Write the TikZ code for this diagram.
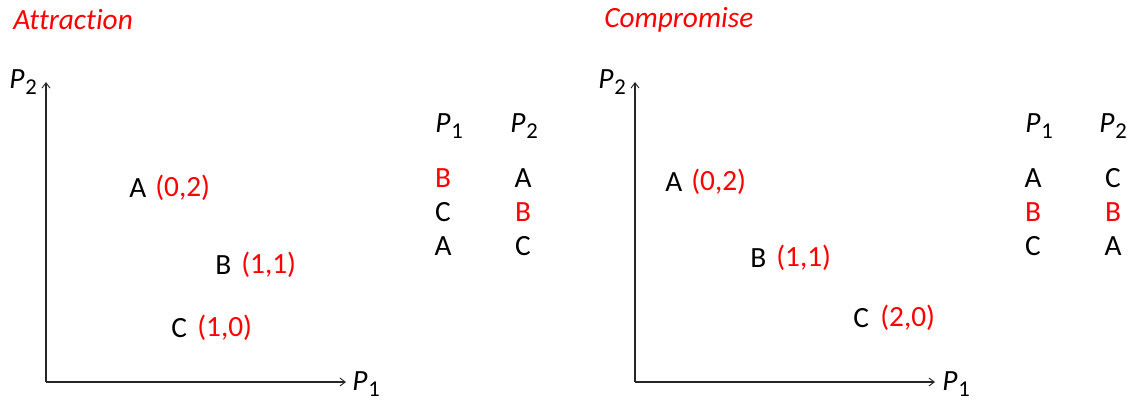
\documentclass[tikz,border=0pt]{standalone}
\usepackage{fontspec}
\setmainfont[Ligatures=NoCommon]{Carlito}
\usetikzlibrary{arrows.meta}
\newcommand{\Plab}[1]{\textit{P}\kern0.8pt\raisebox{-0.4ex}{\fontsize{17}{20}\selectfont #1}}
\begin{document}
\begin{tikzpicture}[x=0.75pt,y=-0.75pt,
  txt/.style={inner sep=0pt,anchor=west,font=\fontsize{22}{26}\selectfont},
  red txt/.style={txt,text=red},
  ctxt/.style={inner sep=0pt,anchor=center,font=\fontsize{22}{26}\selectfont},
  axis/.style={line width=0.8pt,draw=black!85,-{Straight Barb[length=4pt,width=6pt,line width=0.7pt]}}]
\useasboundingbox (0,0) rectangle (1128,400);
% ---- Left panel
\node[red txt,font=\fontsize{22}{26}\selectfont\itshape] (tA) at (13,20) {Attraction};
\coordinate (oL) at (46,382);
\coordinate (yL) at (46,82);
\coordinate (xL) at (346,382);
\draw[axis] (oL) -- (yL);
\draw[axis] (oL) -- (xL);
\node[txt] (p2L) at (9,82) {\Plab{2}};
\node[txt] (p1L) at (352,384) {\Plab{1}};
\node[txt] (aL) at (129,188) {A};
\node[red txt] (aLc) at (155,188) {(0,2)};
\node[txt] (bL) at (215,265) {B};
\node[red txt] (bLc) at (241,265) {(1,1)};
\node[txt] (cL) at (171,328) {C};
\node[red txt] (cLc) at (197,328) {(1,0)};
\node[txt] (h1L) at (435,126) {\Plab{1}};
\node[txt] (h2L) at (510,126) {\Plab{2}};
\node[ctxt,text=red] (r11L) at (443,178) {B};
\node[ctxt] (r12L) at (523,178) {A};
\node[ctxt] (r21L) at (443,212) {C};
\node[ctxt,text=red] (r22L) at (523,212) {B};
\node[ctxt] (r31L) at (443,246) {A};
\node[ctxt] (r32L) at (523,246) {C};
% ---- Right panel
\node[red txt,font=\fontsize{22}{26}\selectfont\itshape] (tC) at (604,20) {Compromise};
\coordinate (oR) at (635,382);
\coordinate (yR) at (635,82);
\coordinate (xR) at (935,382);
\draw[axis] (oR) -- (yR);
\draw[axis] (oR) -- (xR);
\node[txt] (p2R) at (598,82) {\Plab{2}};
\node[txt] (p1R) at (942,384) {\Plab{1}};
\node[txt] (aR) at (665,182) {A};
\node[red txt] (aRc) at (691,182) {(0,2)};
\node[txt] (bR) at (750,258) {B};
\node[red txt] (bRc) at (776,258) {(1,1)};
\node[txt] (cR) at (853,318) {C};
\node[red txt] (cRc) at (880,318) {(2,0)};
\node[txt] (h1R) at (1025,126) {\Plab{1}};
\node[txt] (h2R) at (1099,126) {\Plab{2}};
\node[ctxt] (r11R) at (1033,178) {A};
\node[ctxt] (r12R) at (1113,178) {C};
\node[ctxt,text=red] (r21R) at (1033,212) {B};
\node[ctxt,text=red] (r22R) at (1113,212) {B};
\node[ctxt] (r31R) at (1033,246) {C};
\node[ctxt] (r32R) at (1113,246) {A};
\end{tikzpicture}
\end{document}
